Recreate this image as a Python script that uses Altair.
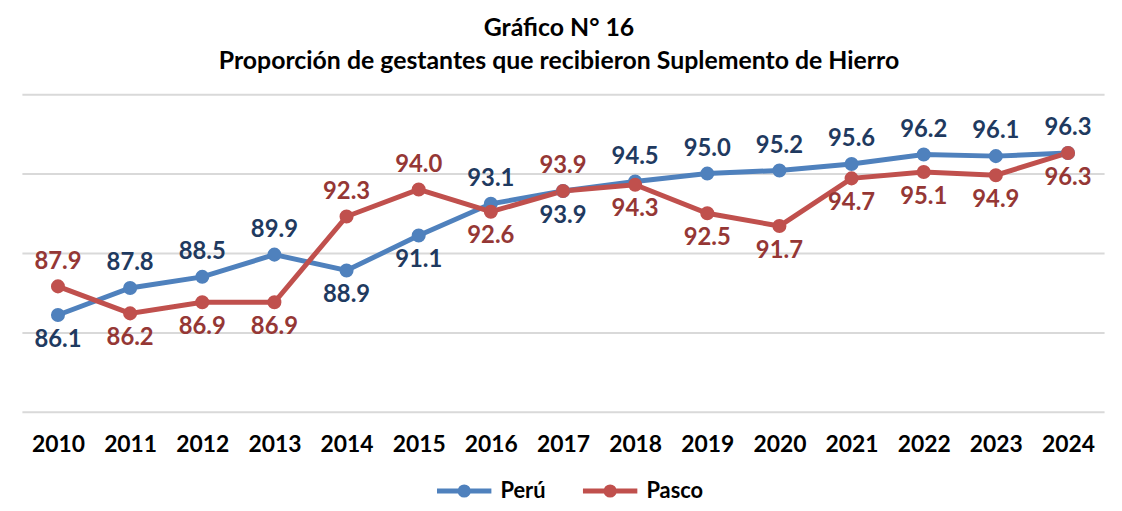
import altair as alt
import pandas as pd

years = [str(y) for y in range(2010, 2025)]
peru = [86.1, 87.8, 88.5, 89.9, 88.9, 91.1, 93.1, 93.9, 94.5, 95.0, 95.2, 95.6, 96.2, 96.1, 96.3]
pasco = [87.9, 86.2, 86.9, 86.9, 92.3, 94.0, 92.6, 93.9, 94.3, 92.5, 91.7, 94.7, 95.1, 94.9, 96.3]
peru_pos = ["below", "above", "above", "above", "below", "below", "above", "below",
            "above", "above", "above", "above", "above", "above", "above"]
pasco_pos = ["above", "below", "below", "below", "above", "above", "below", "above",
             "below", "below", "below", "below", "below", "below", "below"]
series = ["Perú", "Pasco"]
line_colors = ["#4F81BD", "#C0504D"]
label_colors = {"Perú": "#1F3A60", "Pasco": "#953735"}
title_lines = ["Gráfico N° 16", "Proporción de gestantes que recibieron Suplemento de Hierro"]

rows = []
for i, y in enumerate(years):
    rows.append({"year": y, "serie": "Perú", "value": peru[i], "pos": peru_pos[i]})
    rows.append({"year": y, "serie": "Pasco", "value": pasco[i], "pos": pasco_pos[i]})
df = pd.DataFrame(rows)

FONT = "Lato"
W, H = 1090, 320

base = alt.Chart(df)

x_enc = alt.X("year:N", sort=years, title=None,
              axis=alt.Axis(labelAngle=0, labelFontSize=23, labelFontWeight="bold",
                            labelColor="#000000", labelFont=FONT, ticks=False,
                            domain=False, labelPadding=22, grid=False))
y_enc = alt.Y("value:Q", title=None, scale=alt.Scale(domain=[80, 100], nice=False, zero=False),
              axis=alt.Axis(values=[80, 85, 90, 95, 100], labels=False, ticks=False,
                            domain=False, grid=True, gridColor="#D9D9D9", gridWidth=2))

legend_path = "M-2,0L2,0M-0.3,0A0.3,0.3,0,1,1,0.3,0A0.3,0.3,0,1,1,-0.3,0Z"
color_enc = alt.Color("serie:N", sort=series, title=None,
                      scale=alt.Scale(domain=series, range=line_colors),
                      legend=alt.Legend(orient="none", legendX=429, legendY=383,
                                        direction="horizontal",
                                        symbolType=legend_path, symbolSize=750,
                                        symbolStrokeWidth=5, labelFontSize=22,
                                        labelFontWeight="bold", labelFont=FONT,
                                        labelColor="#000000", columnPadding=27,
                                        labelOffset=20))

lines = base.mark_line(strokeWidth=5).encode(x=x_enc, y=y_enc, color=color_enc)
points = base.mark_circle(size=200, opacity=1).encode(
    x=alt.X("year:N", sort=years), y="value:Q",
    color=alt.Color("serie:N", sort=series,
                    scale=alt.Scale(domain=series, range=line_colors), legend=None))

label_color = alt.condition(alt.datum.serie == "Perú",
                            alt.value(label_colors["Perú"]), alt.value(label_colors["Pasco"]))
labels_above = base.mark_text(fontSize=24, fontWeight="bold", font=FONT, dy=-25).encode(
    x=alt.X("year:N", sort=years), y="value:Q",
    text=alt.Text("value:Q", format=".1f"), color=label_color
).transform_filter(alt.datum.pos == "above")
labels_below = base.mark_text(fontSize=24, fontWeight="bold", font=FONT, dy=25).encode(
    x=alt.X("year:N", sort=years), y="value:Q",
    text=alt.Text("value:Q", format=".1f"), color=label_color
).transform_filter(alt.datum.pos == "below")

title_df = pd.DataFrame({"t": title_lines, "line": [0, 1]})
title1 = alt.Chart(title_df).mark_text(fontSize=25, fontWeight="bold", font=FONT,
                                       color="#000000").encode(
    text="t:N", x=alt.value(541), y=alt.value(-67)).transform_filter(alt.datum.line == 0)
title2 = alt.Chart(title_df).mark_text(fontSize=25, fontWeight="bold", font=FONT,
                                       color="#000000").encode(
    text="t:N", x=alt.value(541), y=alt.value(-33)).transform_filter(alt.datum.line == 1)

chart = alt.layer(lines, points, labels_above, labels_below, title1, title2).resolve_scale(
    color="independent"
).properties(
    width=W, height=H,
    autosize=alt.AutoSizeParams(type="none"),
    padding={"left": 14, "top": 85, "right": 10, "bottom": 90},
).configure(background="white").configure_view(stroke=None)

chart.save("out.html", embed_options={"renderer": "svg", "actions": False})
